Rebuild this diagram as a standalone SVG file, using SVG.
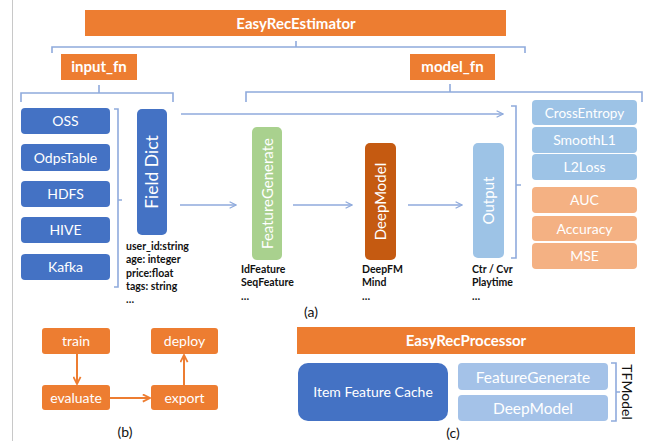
<svg xmlns="http://www.w3.org/2000/svg" width="649" height="441" viewBox="0 0 649 441">
<style>
.t{font-family:Lato,"Open Sans","Liberation Sans",sans-serif;fill:#fff}
.b{font-weight:bold}
.lbl{font-family:Lato,"Open Sans","Liberation Sans",sans-serif;font-weight:bold;font-size:10.5px;fill:#111}
.cap{font-family:Lato,"Open Sans","Liberation Sans",sans-serif;font-size:14px;fill:#111}
.br{fill:none;stroke:#8faadc;stroke-width:1.6}
.ar{fill:none;stroke:#8faadc;stroke-width:1.6}
.oa{fill:none;stroke:#ed7d31;stroke-width:2}
.blue{fill:#4472c4}
.lb{fill:#9dc3e6}
.lo{fill:#f4b183}
.or{fill:#ed7d31}
</style>
<defs>
<marker id="ab" viewBox="0 0 10 10" refX="9" refY="5" markerWidth="8" markerHeight="8" markerUnits="userSpaceOnUse" orient="auto"><path d="M1,1 L9,5 L1,9" fill="none" stroke="#8faadc" stroke-width="1.6"/></marker>
<marker id="ao" viewBox="0 0 10 10" refX="9" refY="5" markerWidth="9" markerHeight="9" markerUnits="userSpaceOnUse" orient="auto"><path d="M1,1 L9,5 L1,9" fill="none" stroke="#ed7d31" stroke-width="2"/></marker>
</defs>
<rect width="649" height="441" fill="#fff"/>
<line x1="12.5" y1="0" x2="12.5" y2="441" stroke="#c8c8c8" stroke-width="1"/>

<g id="estimator"><rect x="85" y="10" width="421" height="26" class="or"/><text x="296" y="28.5" text-anchor="middle" class="t b" font-size="15">EasyRecEstimator</text></g>
<g id="input_fn"><rect x="61" y="54" width="76" height="26" class="or"/><text x="99" y="72" text-anchor="middle" class="t b" font-size="15">input_fn</text></g>
<g id="model_fn"><rect x="410" y="54" width="85" height="26" class="or"/><text x="452.5" y="72" text-anchor="middle" class="t b" font-size="15">model_fn</text></g>

<g id="brackets">
<path class="br" d="M52,53 V47 H525 V53 M296,47 V41"/>
<path class="br" d="M21,102 V93 H173 V102 M99,93 V85"/>
<path class="br" d="M246,102 V92 H642 V102 M450,92 V84"/>
<path class="br" d="M114,109 H118 V287 H114 M118,200 H122"/>
<path class="br" d="M511,106 H516 V258 H511 M516,185 H521"/>
<path class="br" d="M611,363 H616 V421 H611 M616,392 H620"/>
</g>

<g id="oss"><rect x="21" y="108" width="89" height="26" rx="4" class="blue"/><text x="65.5" y="126" text-anchor="middle" class="t" font-size="14">OSS</text></g>
<g id="odps"><rect x="21" y="144" width="89" height="27" rx="4" class="blue"/><text x="65.5" y="162.5" text-anchor="middle" class="t" font-size="14">OdpsTable</text></g>
<g id="hdfs"><rect x="21" y="181" width="89" height="26" rx="4" class="blue"/><text x="65.5" y="199" text-anchor="middle" class="t" font-size="14">HDFS</text></g>
<g id="hive"><rect x="21" y="217" width="89" height="26" rx="4" class="blue"/><text x="65.5" y="235" text-anchor="middle" class="t" font-size="14">HIVE</text></g>
<g id="kafka"><rect x="21" y="254" width="89" height="26" rx="4" class="blue"/><text x="65.5" y="272" text-anchor="middle" class="t" font-size="14">Kafka</text></g>

<g id="fielddict"><rect x="137" y="109" width="30" height="126" rx="5" class="blue"/><text transform="translate(158,172) rotate(-90)" text-anchor="middle" class="t" font-size="17.5">Field Dict</text>
<text class="lbl"><tspan x="126" y="250">user_id:string</tspan><tspan x="126" y="263">age: integer</tspan><tspan x="126" y="277">price:float</tspan><tspan x="126" y="290">tags: string</tspan><tspan x="126" y="303">…</tspan></text></g>

<g id="featuregen"><rect x="252" y="127" width="30" height="133" rx="5" fill="#a9d18e"/><text transform="translate(272.5,193.5) rotate(-90)" text-anchor="middle" class="t" font-size="15">FeatureGenerate</text>
<text class="lbl"><tspan x="241" y="273">IdFeature</tspan><tspan x="241" y="286">SeqFeature</tspan><tspan x="241" y="300">…</tspan></text></g>

<g id="deepmodel"><rect x="365" y="143" width="31" height="117" rx="5" fill="#c55a11"/><text transform="translate(386,201.5) rotate(-90)" text-anchor="middle" class="t" font-size="15">DeepModel</text>
<text class="lbl"><tspan x="362" y="273">DeepFM</tspan><tspan x="362" y="286">Mind</tspan><tspan x="362" y="300">…</tspan></text></g>

<g id="output"><rect x="473" y="143" width="31" height="115" rx="5" class="lb"/><text transform="translate(494,200.5) rotate(-90)" text-anchor="middle" class="t" font-size="15">Output</text>
<text class="lbl"><tspan x="472" y="273">Ctr / Cvr</tspan><tspan x="472" y="286">Playtime</tspan><tspan x="472" y="300">…</tspan></text></g>

<g id="crossentropy"><rect x="532" y="100" width="105" height="25" rx="4" class="lb"/><text x="584.5" y="117.5" text-anchor="middle" class="t" font-size="13.5">CrossEntropy</text></g>
<g id="smoothl1"><rect x="532" y="127" width="105" height="26" rx="4" class="lb"/><text x="584.5" y="145" text-anchor="middle" class="t" font-size="14">SmoothL1</text></g>
<g id="l2loss"><rect x="532" y="154" width="105" height="26" rx="4" class="lb"/><text x="584.5" y="172" text-anchor="middle" class="t" font-size="14">L2Loss</text></g>
<g id="auc"><rect x="532" y="187" width="105" height="26" rx="4" class="lo"/><text x="584.5" y="205" text-anchor="middle" class="t" font-size="14">AUC</text></g>
<g id="accuracy"><rect x="532" y="216" width="105" height="25" rx="4" class="lo"/><text x="584.5" y="233.5" text-anchor="middle" class="t" font-size="14">Accuracy</text></g>
<g id="mse"><rect x="532" y="243" width="105" height="26" rx="4" class="lo"/><text x="584.5" y="261" text-anchor="middle" class="t" font-size="14">MSE</text></g>

<g id="connectors">
<line class="ar" x1="181" y1="114" x2="503" y2="114" marker-end="url(#ab)"/>
<line class="ar" x1="180" y1="205" x2="236" y2="205" marker-end="url(#ab)"/>
<line class="ar" x1="293" y1="205" x2="352" y2="205" marker-end="url(#ab)"/>
<line class="ar" x1="408" y1="205" x2="462" y2="205" marker-end="url(#ab)"/>
<line class="oa" x1="77" y1="354" x2="77" y2="384" marker-end="url(#ao)"/>
<line class="oa" x1="110" y1="398" x2="150" y2="398" marker-end="url(#ao)"/>
<line class="oa" x1="184" y1="385" x2="184" y2="355" marker-end="url(#ao)"/>
</g>

<text x="311" y="317" text-anchor="middle" class="cap">(a)</text>

<g id="train"><rect x="42" y="328" width="68" height="26" rx="3" class="or"/><text x="76" y="346" text-anchor="middle" class="t" font-size="14">train</text></g>
<g id="deploy"><rect x="151" y="328" width="67" height="26" rx="3" class="or"/><text x="184.5" y="346" text-anchor="middle" class="t" font-size="14">deploy</text></g>
<g id="evaluate"><rect x="42" y="385" width="68" height="25" rx="3" class="or"/><text x="76" y="402.5" text-anchor="middle" class="t" font-size="14">evaluate</text></g>
<g id="export"><rect x="151" y="385" width="67" height="25" rx="3" class="or"/><text x="184.5" y="402.5" text-anchor="middle" class="t" font-size="14">export</text></g>
<text x="125" y="437" text-anchor="middle" class="cap">(b)</text>

<g id="processor"><rect x="297" y="327" width="338" height="27" class="or"/><text x="466" y="346" text-anchor="middle" class="t b" font-size="15">EasyRecProcessor</text></g>
<g id="itemcache"><rect x="298" y="363" width="150" height="58" rx="10" class="blue"/><text x="373" y="397" text-anchor="middle" class="t" font-size="14">Item Feature Cache</text></g>
<g id="fg2"><rect x="458" y="363" width="150" height="27" rx="4" fill="#a4c2e8"/><text x="533" y="382.5" text-anchor="middle" class="t" font-size="15.5">FeatureGenerate</text></g>
<g id="dm2"><rect x="458" y="395" width="150" height="26" rx="4" fill="#a4c2e8"/><text x="533" y="414" text-anchor="middle" class="t" font-size="15.5">DeepModel</text></g>
<text transform="translate(622,392) rotate(90)" text-anchor="middle" class="cap">TFModel</text>
<text x="453" y="438" text-anchor="middle" class="cap">(c)</text>
</svg>
